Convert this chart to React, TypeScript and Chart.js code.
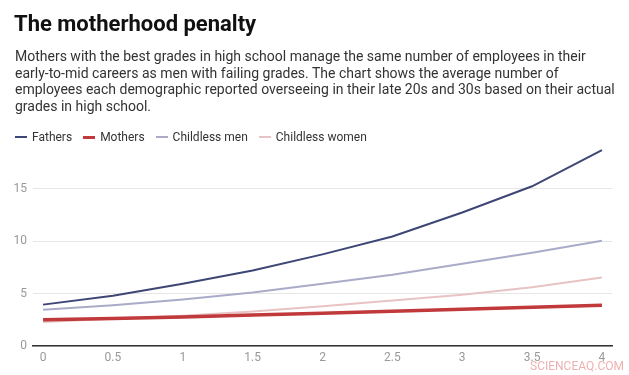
import React, { useEffect, useRef } from "react";
import { Chart, registerables } from "chart.js";

Chart.register(...registerables);

const grades = [0, 0.5, 1, 1.5, 2, 2.5, 3, 3.5, 4];
const fathers = [3.95, 4.8, 5.95, 7.2, 8.75, 10.45, 12.75, 15.25, 18.7];
const mothers = [2.5, 2.62, 2.78, 2.95, 3.12, 3.32, 3.5, 3.7, 3.9];
const childlessMen = [3.45, 3.9, 4.45, 5.1, 5.95, 6.8, 7.85, 8.9, 10.05];
const childlessWomen = [2.3, 2.6, 2.9, 3.3, 3.8, 4.35, 4.9, 5.6, 6.55];
const yTicks = [0, 5, 10, 15];
const xTicks = [0, 0.5, 1, 1.5, 2, 2.5, 3, 3.5, 4];

const seriesNames = ["Fathers", "Mothers", "Childless men", "Childless women"];
const seriesColors = ["#3d4675", "#c0393b", "#aaabc8", "#e8c3c4"];
const seriesWidths = [2, 3.5, 2, 2];
const seriesValues = [fathers, mothers, childlessMen, childlessWomen];

const font = "Roboto, 'Noto Sans', sans-serif";

export default function App() {
  const ref = useRef<HTMLCanvasElement>(null);
  useEffect(() => {
    const chart = new Chart(ref.current!, {
      type: "line",
      data: {
        datasets: seriesNames.map((name, i) => ({
          label: name,
          data: grades.map((g, j) => ({ x: g, y: seriesValues[i][j] })),
          borderColor: seriesColors[i],
          backgroundColor: seriesColors[i],
          borderWidth: seriesWidths[i],
          pointRadius: 0,
          tension: 0,
          fill: false,
        })),
      },
      options: {
        animation: false,
        responsive: false,
        maintainAspectRatio: false,
        layout: { padding: { top: 147, right: 17, left: 0, bottom: 0 } },
        plugins: { legend: { display: false }, tooltip: { enabled: false } },
        scales: {
          x: {
            type: "linear",
            min: -0.072,
            max: 4.072,
            afterBuildTicks: (axis: any) => {
              axis.ticks = xTicks.map((v) => ({ value: v }));
            },
            afterFit: (axis: any) => {
              axis.height = 29;
            },
            grid: { display: false, drawTicks: false },
            border: { display: true, color: "#333333", width: 1.5 },
            ticks: {
              padding: 5,
              color: "#999999",
              font: { family: font, size: 12 },
              callback: (v: any) => String(v),
            },
          },
          y: {
            type: "linear",
            min: 0,
            max: 19,
            afterBuildTicks: (axis: any) => {
              axis.ticks = yTicks.map((v) => ({ value: v }));
            },
            afterFit: (axis: any) => {
              axis.width = 33;
            },
            grid: { color: "#e6e6e6", drawTicks: false, lineWidth: 1 },
            border: { display: false },
            ticks: {
              padding: 6,
              color: "#999999",
              font: { family: font, size: 12 },
            },
          },
        },
      },
    });
    return () => chart.destroy();
  }, []);

  return (
    <div
      style={{
        position: "fixed",
        left: 0,
        top: 0,
        width: 629,
        height: 375,
        background: "#fff",
        fontFamily: font,
        overflow: "hidden",
      }}
    >
      <canvas
        ref={ref}
        width={629}
        height={375}
        style={{ position: "absolute", left: 0, top: 0, width: 629, height: 375 }}
      />
      <div
        style={{
          position: "absolute",
          left: 14,
          top: 11,
          fontSize: 22,
          fontWeight: 700,
          color: "#111",
          lineHeight: "26px",
          whiteSpace: "nowrap",
        }}
      >
        The motherhood penalty
      </div>
      <div
        style={{
          position: "absolute",
          left: 15,
          top: 48,
          fontSize: 14,
          color: "#333",
          lineHeight: "16.7px",
          whiteSpace: "nowrap",
        }}
      >
        Mothers with the best grades in high school manage the same number of employees in their
        <br />
        early-to-mid careers as men with failing grades. The chart shows the average number of
        <br />
        employees each demographic reported overseeing in their late 20s and 30s based on their actual
        <br />
        grades in high school.
      </div>
      <div
        style={{
          position: "absolute",
          left: 15,
          top: 129,
          fontSize: 12,
          color: "#333",
          display: "flex",
          alignItems: "center",
          lineHeight: "16px",
        }}
      >
        {seriesNames.map((n, i) => (
          <div key={n} style={{ display: "flex", alignItems: "center", marginRight: 11 }}>
            <span
              style={{
                display: "inline-block",
                width: 12,
                height: i === 1 ? 3 : 2,
                background: seriesColors[i],
                marginRight: 5,
              }}
            />
            <span>{n}</span>
          </div>
        ))}
      </div>
      <div
        style={{
          position: "absolute",
          left: 530,
          top: 359,
          fontSize: 12,
          color: "rgba(232,150,150,0.75)",
        }}
      >
        SCIENCEAQ.COM
      </div>
    </div>
  );
}
